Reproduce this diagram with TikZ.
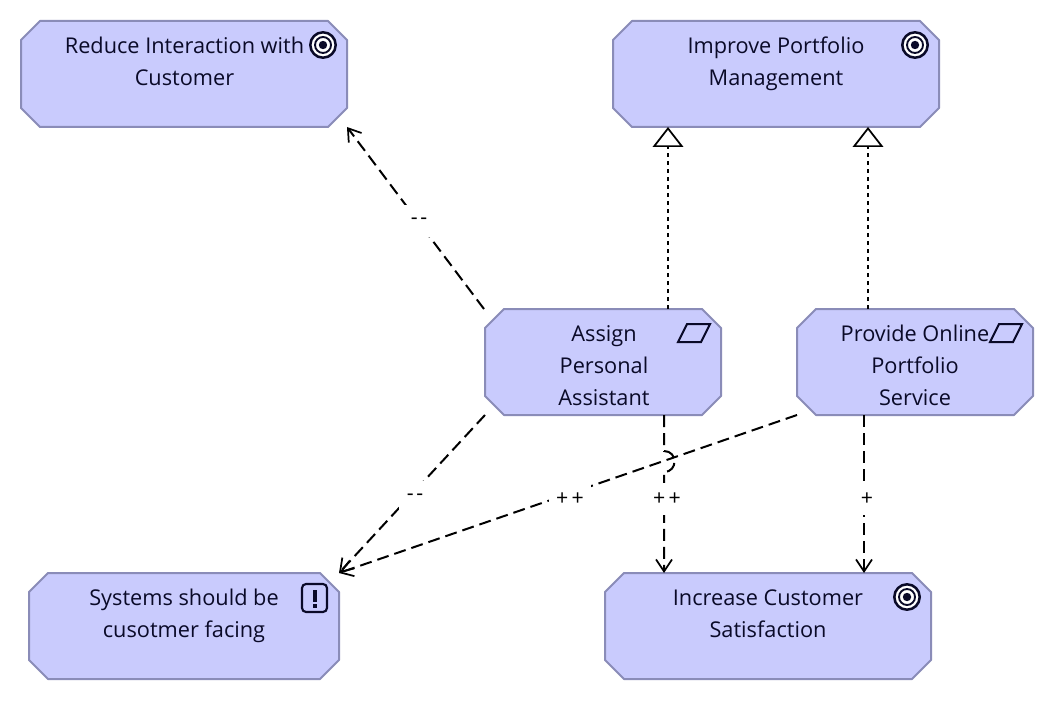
\documentclass[tikz,border=0pt]{standalone}
\usepackage{fontspec}
\setmainfont{Open Sans}
\usetikzlibrary{arrows.meta,calc}
\definecolor{boxfill}{HTML}{C9CBFD}
\definecolor{boxline}{HTML}{8A8CB8}
\definecolor{ink}{HTML}{0A0A28}
\tikzset{
  x=0.75pt,y=-0.75pt,
  elem/.style={rectangle,minimum height=79.5pt,inner sep=0pt,outer sep=0pt},
  elemshape/.style={draw=boxline,fill=boxfill,line width=1.5pt,line join=round},
  txt/.style={anchor=north,align=center,text=ink,font=\fontsize{16.3}{24}\selectfont,inner sep=0pt},
  rel/.style={line width=1.5pt,dash pattern=on 9pt off 4.5pt,-{Straight Barb[length=9pt,width=12pt,line width=1.3pt]}},
  real/.style={line width=1.5pt,dash pattern=on 3pt off 3pt,-{Triangle[open,length=15pt,width=23pt,line width=1.3pt,fill=white]}},
  lab/.style={fill=white,font=\fontsize{16}{16}\selectfont,inner sep=0pt,minimum height=24pt,text=black},
  icon/.style={draw=ink,line width=1.5pt},
}
\newcommand{\octabox}[4]{%
  \node[elem,minimum width=#4] (#1) at (#2,#3) {};
  \draw[elemshape]
    ($(#1.north west)+(19,0)$) -- ($(#1.north east)+(-19,0)$) -- ($(#1.north east)+(0,19)$)
    -- ($(#1.south east)+(0,-19)$) -- ($(#1.south east)+(-19,0)$) -- ($(#1.south west)+(19,0)$)
    -- ($(#1.south west)+(0,-19)$) -- ($(#1.north west)+(0,19)$) -- cycle;
}
\newcommand{\goalicon}[1]{%
  \begin{scope}[shift={($(#1.center)+(139,-29)$)}]
    \fill[white] (0,0) circle[radius=12];
    \draw[icon,line width=1.9pt] (0,0) circle[radius=12.7];
    \draw[icon,line width=1.4pt] (0,0) circle[radius=8];
    \fill[ink] (0,0) circle[radius=4.2];
  \end{scope}
}
\newcommand{\processicon}[1]{%
  \begin{scope}[shift={($(#1.center)+(91,-29)$)}]
    \draw[icon] (-16,9) -- (-7,-9) -- (16,-9) -- (7,9) -- cycle;
  \end{scope}
}
\begin{document}
\begin{tikzpicture}
\useasboundingbox (0,0) rectangle (1056,702);
\fill[white] (0,0) rectangle (1056,702);
% boxes
\octabox{reduce}{184}{74}{244.5pt}
\octabox{improve}{776}{74}{244.5pt}
\octabox{assign}{603}{362}{177pt}
\octabox{provide}{915}{362}{177pt}
\octabox{systems}{184}{626}{232.5pt}
\octabox{increase}{768}{626}{244.5pt}
% texts
\node[txt] (t1) at (184.5,37) {Reduce Interaction with\\Customer};
\node[txt] (t2) at (776,37) {Improve Portfolio\\Management};
\node[txt] (t3) at (604,325) {Assign\\Personal\\Assistant};
\node[txt] (t4) at (915,325) {Provide Online\\Portfolio\\Service};
\node[txt] (t5) at (184,589) {Systems should be\\cusotmer facing};
\node[txt] (t6) at (768,589) {Increase Customer\\Satisfaction};
% icons
\goalicon{reduce}
\goalicon{improve}
\goalicon{increase}
\processicon{assign}
\processicon{provide}
\draw[icon,line width=1.6pt,rounded corners=3pt] (302,584) rectangle (327,612);
\draw[ink,line width=3pt] (314.5,590) -- (314.5,602);
\draw[ink,line width=3pt] (314.5,604) -- (314.5,608);
% connectors
\draw[rel] ($(assign.center)+(-119,-53)$) -- ($(reduce.center)+(163,53)$);
\draw[rel] ($(assign.center)+(-118,53)$) -- ($(systems.center)+(155,-53)$);
\draw[rel] ($(provide.center)+(-118,53)$) -- ($(systems.center)+(155,-53)$);
\draw[rel] ($(assign.center)+(61,53)$) -- ($(assign.center)+(61,89)$)
  .. controls ($(assign.center)+(75,89)$) and ($(assign.center)+(75,110)$) .. ($(assign.center)+(61,110)$)
  -- ($(increase.center)+(-104,-53)$);
\draw[rel] ($(provide.center)+(-51,53)$) -- ($(increase.center)+(96,-53)$);
\draw[real] ($(assign.center)+(65,-53)$) -- ($(improve.center)+(-108,53)$);
\draw[real] ($(provide.center)+(-47,-53)$) -- ($(improve.center)+(92,53)$);
% labels
\node[lab,minimum width=24pt] (l1) at (419,221) {-\kern2pt-};
\node[lab,minimum width=24pt] (l2) at (415,497) {-\kern2pt-};
\node[lab,minimum width=31pt] (l3) at (570,499) {+\kern2.5pt+};
\node[lab,minimum width=24pt] (l4) at (667,499) {+\kern2.5pt+};
\node[lab,minimum width=14pt] (l5) at (867,499) {+};
\end{tikzpicture}
\end{document}
